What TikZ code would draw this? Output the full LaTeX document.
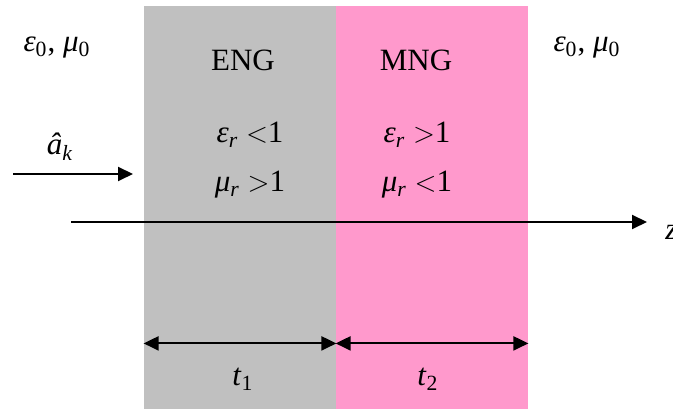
\documentclass[tikz,border=0pt]{standalone}
\usepackage{fontspec}
\setmainfont{Liberation Serif}
\usetikzlibrary{arrows.meta}

\definecolor{enggray}{HTML}{C0C0C0}
\definecolor{mngpink}{HTML}{FF99CC}
\newcommand{\symb}[2]{\textit{#1}\textsubscript{#2}}

\begin{document}
\begin{tikzpicture}[x=0.5pt,y=-0.5pt,every node/.style={font=\fontsize{15.5}{18}\selectfont,inner sep=0pt},
    layer/.style={minimum width=96pt,minimum height=201.5pt},
    arr/.style={line width=1pt,-{Triangle[length=7.5pt,width=7pt]}},
    dim/.style={line width=1pt,{Triangle[length=7.5pt,width=7pt]}-{Triangle[length=7.5pt,width=7pt]}}]
    \useasboundingbox (0,0) rectangle (673,410);
    % layers
    \node[layer,fill=enggray] (eng) at (240,207.5) {};
    \node[layer,fill=mngpink] (mng) at (432,207.5) {};
    \node (engname) at (243,60) {ENG};
    \node (mngname) at (416,60) {MNG};
    \node[anchor=base] (epseng) at (250,143) {\symb{ε}{\textit{r}} ${<}$1};
    \node[anchor=base] (mueng) at (250,192) {\symb{μ}{\textit{r}} ${>}$1};
    \node[anchor=base] (epsmng) at (417,143) {\symb{ε}{\textit{r}} ${>}$1};
    \node[anchor=base] (mumng) at (417,192) {\symb{μ}{\textit{r}} ${<}$1};
    % free space
    \node (leftmed) at (57,48) {\symb{ε}{0}, \symb{μ}{0}};
    \node (rightmed) at (587,48) {\symb{ε}{0}, \symb{μ}{0}};
    % incident wave
    \coordinate (kin) at (13,174);
    \coordinate (kout) at (133,174);
    \draw[arr] (kin) -- (kout);
    \node[anchor=base] (ak) at (60,155) {\symb{â}{\textit{k}}};
    % z axis
    \coordinate (zin) at (71,222);
    \coordinate (zout) at (647,222);
    \draw[arr] (zin) -- (zout);
    \node[anchor=west] (zlab) at (665,232) {\textit{z}};
    % thicknesses
    \draw[dim] ([yshift=33pt]eng.south west) -- ([yshift=33pt]eng.south east);
    \draw[dim] ([yshift=33pt]mng.south west) -- ([yshift=33pt]mng.south east);
    \node[anchor=base] (t1) at (243,386) {\symb{t}{1}};
    \node[anchor=base] (t2) at (428,386) {\symb{t}{2}};
\end{tikzpicture}
\end{document}
